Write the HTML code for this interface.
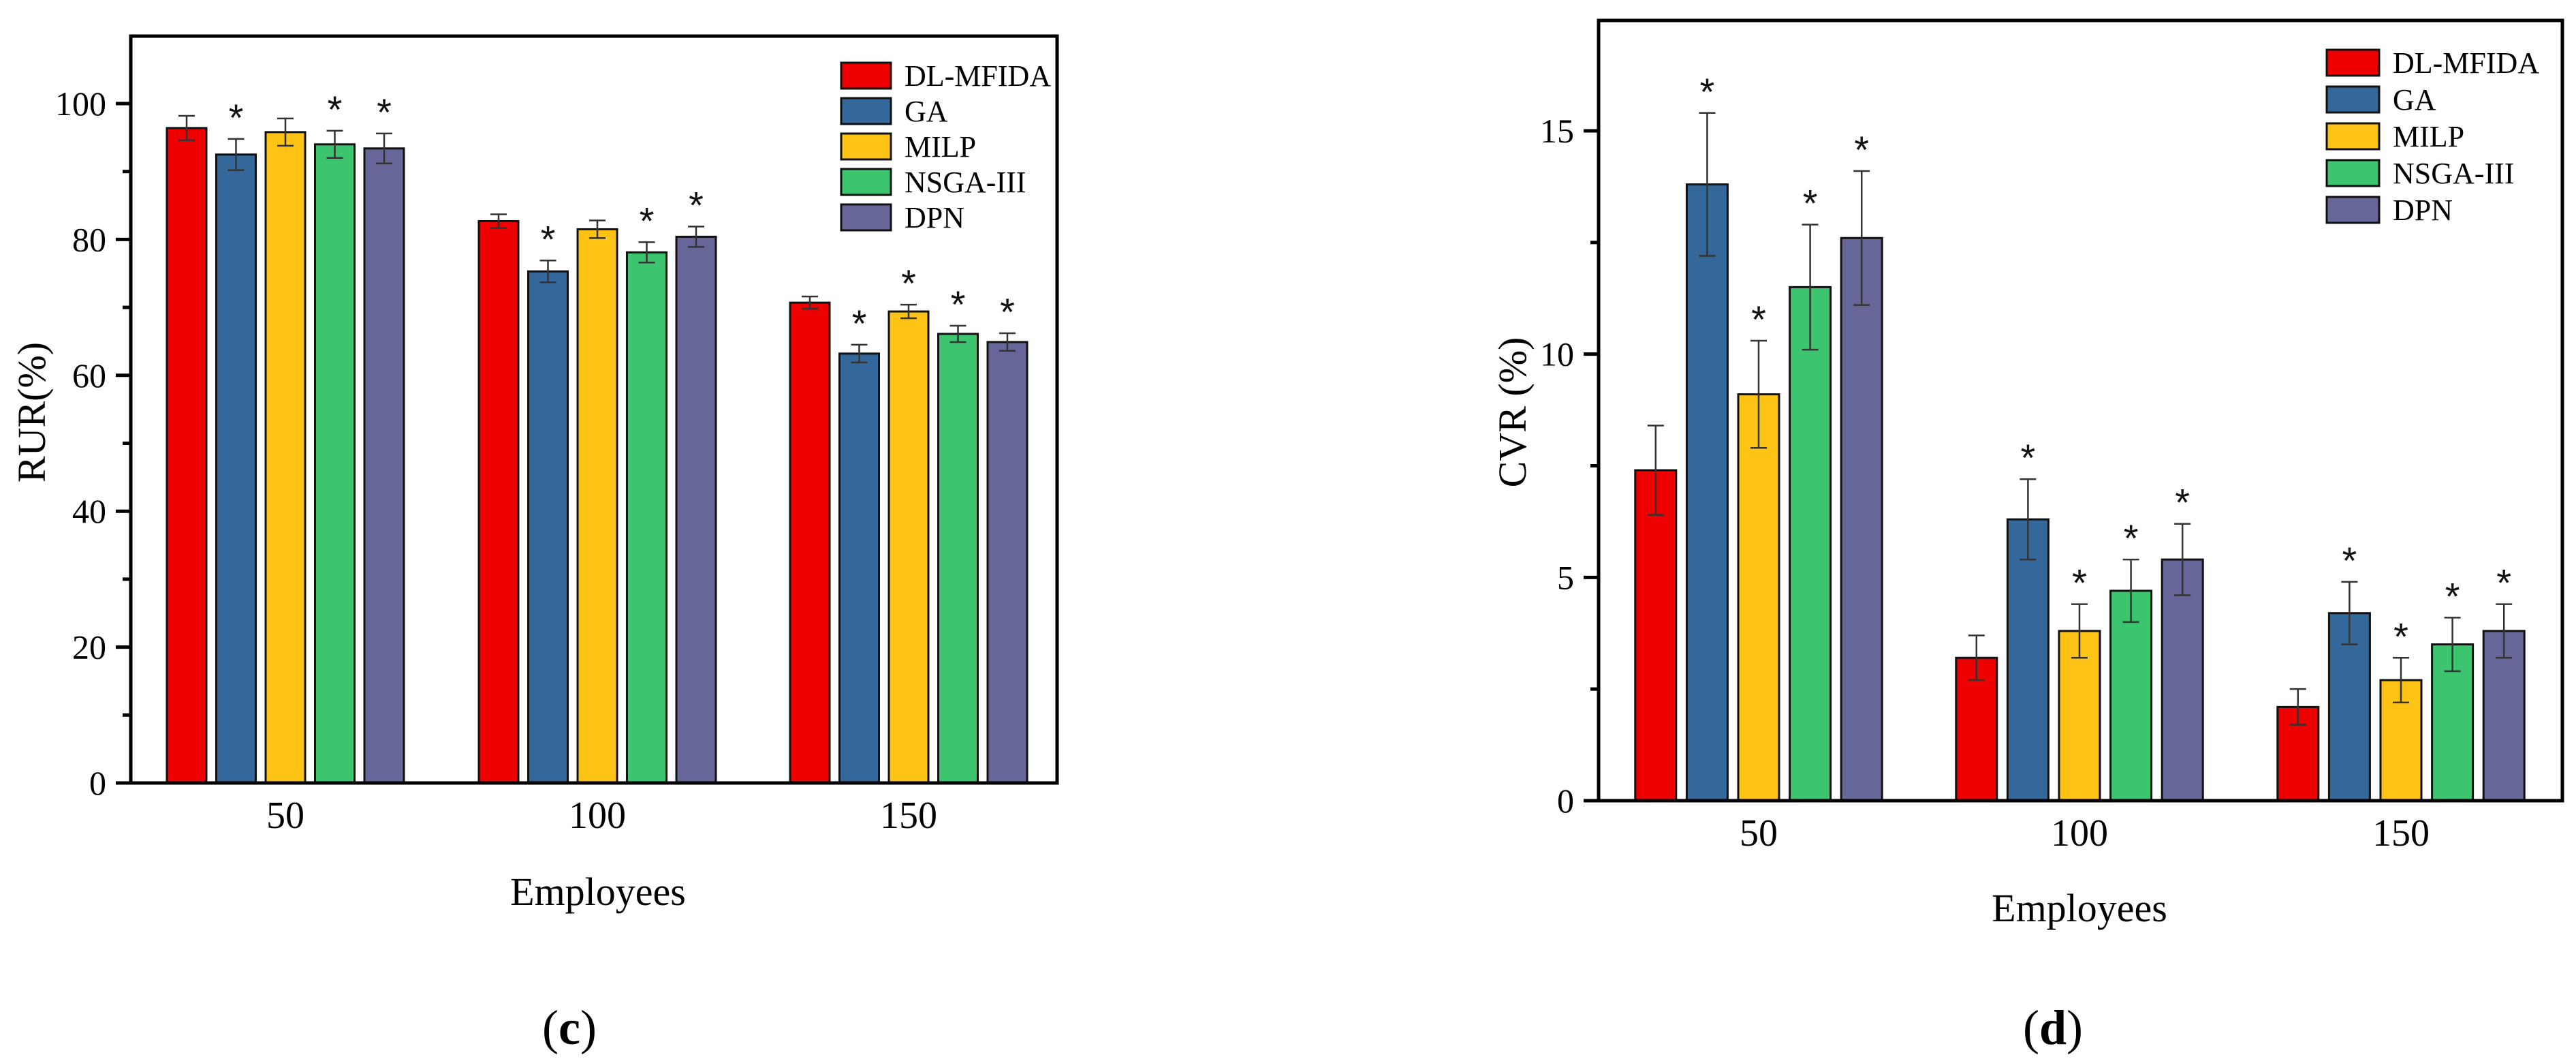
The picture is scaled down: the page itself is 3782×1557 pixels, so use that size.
<!DOCTYPE html>
<html><head><meta charset="utf-8"><style>
html,body{margin:0;padding:0;background:#fff;}
svg{display:block;font-family:"Liberation Serif",serif;}
</style></head><body>
<svg id="fig" width="3782" height="1557" viewBox="0 0 3782 1557" xmlns="http://www.w3.org/2000/svg"></svg>
<script>
const categories = ["50","100","150"];
const seriesNames = ["DL-MFIDA","GA","MILP","NSGA-III","DPN"];
const seriesColors = ["#EE0000","#34679A","#FFC316","#3CC46E","#666699"];
// Chart (c) RUR(%)
const rurValues = [[96.4,82.7,70.7],[92.5,75.3,63.2],[95.8,81.5,69.4],[94.0,78.1,66.1],[93.4,80.4,64.9]];
const rurErrors = [[1.8,1.0,0.9],[2.3,1.6,1.3],[2.0,1.3,1.0],[2.0,1.5,1.2],[2.2,1.5,1.3]];
const rurStars = [[0,0,0],[1,1,1],[0,0,1],[1,1,1],[1,1,1]];
const rurTicks = [0,20,40,60,80,100];
// Chart (d) CVR(%)
const cvrValues = [[7.4,3.2,2.1],[13.8,6.3,4.2],[9.1,3.8,2.7],[11.5,4.7,3.5],[12.6,5.4,3.8]];
const cvrErrors = [[1.0,0.5,0.4],[1.6,0.9,0.7],[1.2,0.6,0.5],[1.4,0.7,0.6],[1.5,0.8,0.6]];
const cvrStars = [[0,0,0],[1,1,1],[1,1,1],[1,1,1],[1,1,1]];
const cvrTicks = [0,5,10,15];

const NS="http://www.w3.org/2000/svg";
const svg=document.getElementById('fig');
function mk(tag,attrs,parent){const e=document.createElementNS(NS,tag);for(const k in attrs)e.setAttribute(k,attrs[k]);(parent||svg).appendChild(e);return e;}

function drawChart(cfg){
  const g=mk('g',{});
  
  
  const yS=v=>cfg.y0-(v-0)*(cfg.y0-cfg.yRef)/cfg.refVal;
  const xS=(ci,si)=>cfg.centers[ci]+(si-2)*cfg.pitch;
  cfg.values.forEach((vals,si)=>{
    vals.forEach((v,ci)=>{
      const cx=xS(ci,si), top=yS(v);
      const r=mk('rect',{x:cx-cfg.bw/2,y:top,width:cfg.bw,height:cfg.y0-top,fill:seriesColors[si],stroke:'#111','stroke-width':3},g);
      
      
      const e=cfg.errors[si][ci], yt=yS(v+e), yb=yS(v-e);
      const eb=mk('path',{d:`M${cx},${yt}V${yb}M${cx-12},${yt}H${cx+12}M${cx-12},${yb}H${cx+12}`,stroke:'#333','stroke-width':2.5,fill:'none'},g);
      
      
      if(cfg.stars[si][ci]){
        const t=mk('text',{x:cx,y:yt-12,'text-anchor':'middle','font-size':56,'font-family':'Liberation Sans, sans-serif',fill:'#111'},g);
        t.textContent='*';
        
        
      }
    });
  });
  const fr=mk('path',{d:`M${cfg.x0},${cfg.y0}H${cfg.x1}V${cfg.yTop}H${cfg.x0}Z`,fill:'none',stroke:'#000','stroke-width':5},g);
  
  
  cfg.ticks.forEach(t=>{
    const y=yS(t);
    mk('line',{x1:cfg.x0-22,x2:cfg.x0,y1:y,y2:y,stroke:'#000','stroke-width':5},g);
    const lb=mk('text',{x:cfg.x0-36,y:y+17,'text-anchor':'end','font-size':50},g);
    lb.textContent=t;
    
    
  });
  for(let i=0;i<cfg.ticks.length;i++){
    const mv=cfg.ticks[i]+cfg.minor; if(yS(mv)<cfg.yTop)break;
    const y=yS(mv);
    mk('line',{x1:cfg.x0-12,x2:cfg.x0,y1:y,y2:y,stroke:'#000','stroke-width':5},g);
  }
  categories.forEach((c,ci)=>{
    const lb=mk('text',{x:cfg.centers[ci],y:cfg.y0+66,'text-anchor':'middle','font-size':56},g);
    lb.textContent=c;
    
    
  });
  const xt=mk('text',{x:cfg.xTitleX,y:cfg.xTitleY,'text-anchor':'middle','font-size':58},g);
  xt.textContent='Employees';
  
  
  const yt=mk('text',{x:0,y:0,'text-anchor':'middle','font-size':58,transform:`translate(${cfg.yTitleX},${cfg.yTitleY}) rotate(-90)`},g);
  yt.textContent=cfg.yTitle;
  
  
  seriesNames.forEach((n,si)=>{
    const y=cfg.legY+si*cfg.legPitch;
    const r=mk('rect',{x:cfg.legX,y:y,width:cfg.legW,height:38,fill:seriesColors[si],stroke:'#111','stroke-width':3},g);
    
    
    const t=mk('text',{x:cfg.legX+cfg.legW+20,y:y+34,'font-size':44},g);
    t.textContent=n;
    
    
  });
  const p=mk('text',{x:cfg.panelX,y:1532,'text-anchor':'middle','font-size':72},g);
  p.innerHTML='(<tspan font-weight="bold">'+cfg.panel+'</tspan>)';
  
  
}

drawChart({name:'chart-rur',values:rurValues,errors:rurErrors,stars:rurStars,ticks:rurTicks,minor:10,
  x0:192,x1:1552,yTop:53,y0:1149,yRef:152,refVal:100,centers:[419,877,1334],pitch:72.5,bw:58,
  xTitleX:878,xTitleY:1328,yTitle:'RUR(%)',yTitleX:66,yTitleY:605,
  legX:1235,legY:92,legPitch:52,legW:73,panel:'c',panelX:836});
drawChart({name:'chart-cvr',values:cvrValues,errors:cvrErrors,stars:cvrStars,ticks:cvrTicks,minor:2.5,
  x0:2347,x1:3762,yTop:30,y0:1175,yRef:192,refVal:15,centers:[2582,3053,3525],pitch:75.6,bw:60,
  xTitleX:3053,xTitleY:1352,yTitle:'CVR (%)',yTitleX:2240,yTitleY:605,
  legX:3416,legY:73,legPitch:54,legW:77,panel:'d',panelX:3014});
</script>
</body></html>
